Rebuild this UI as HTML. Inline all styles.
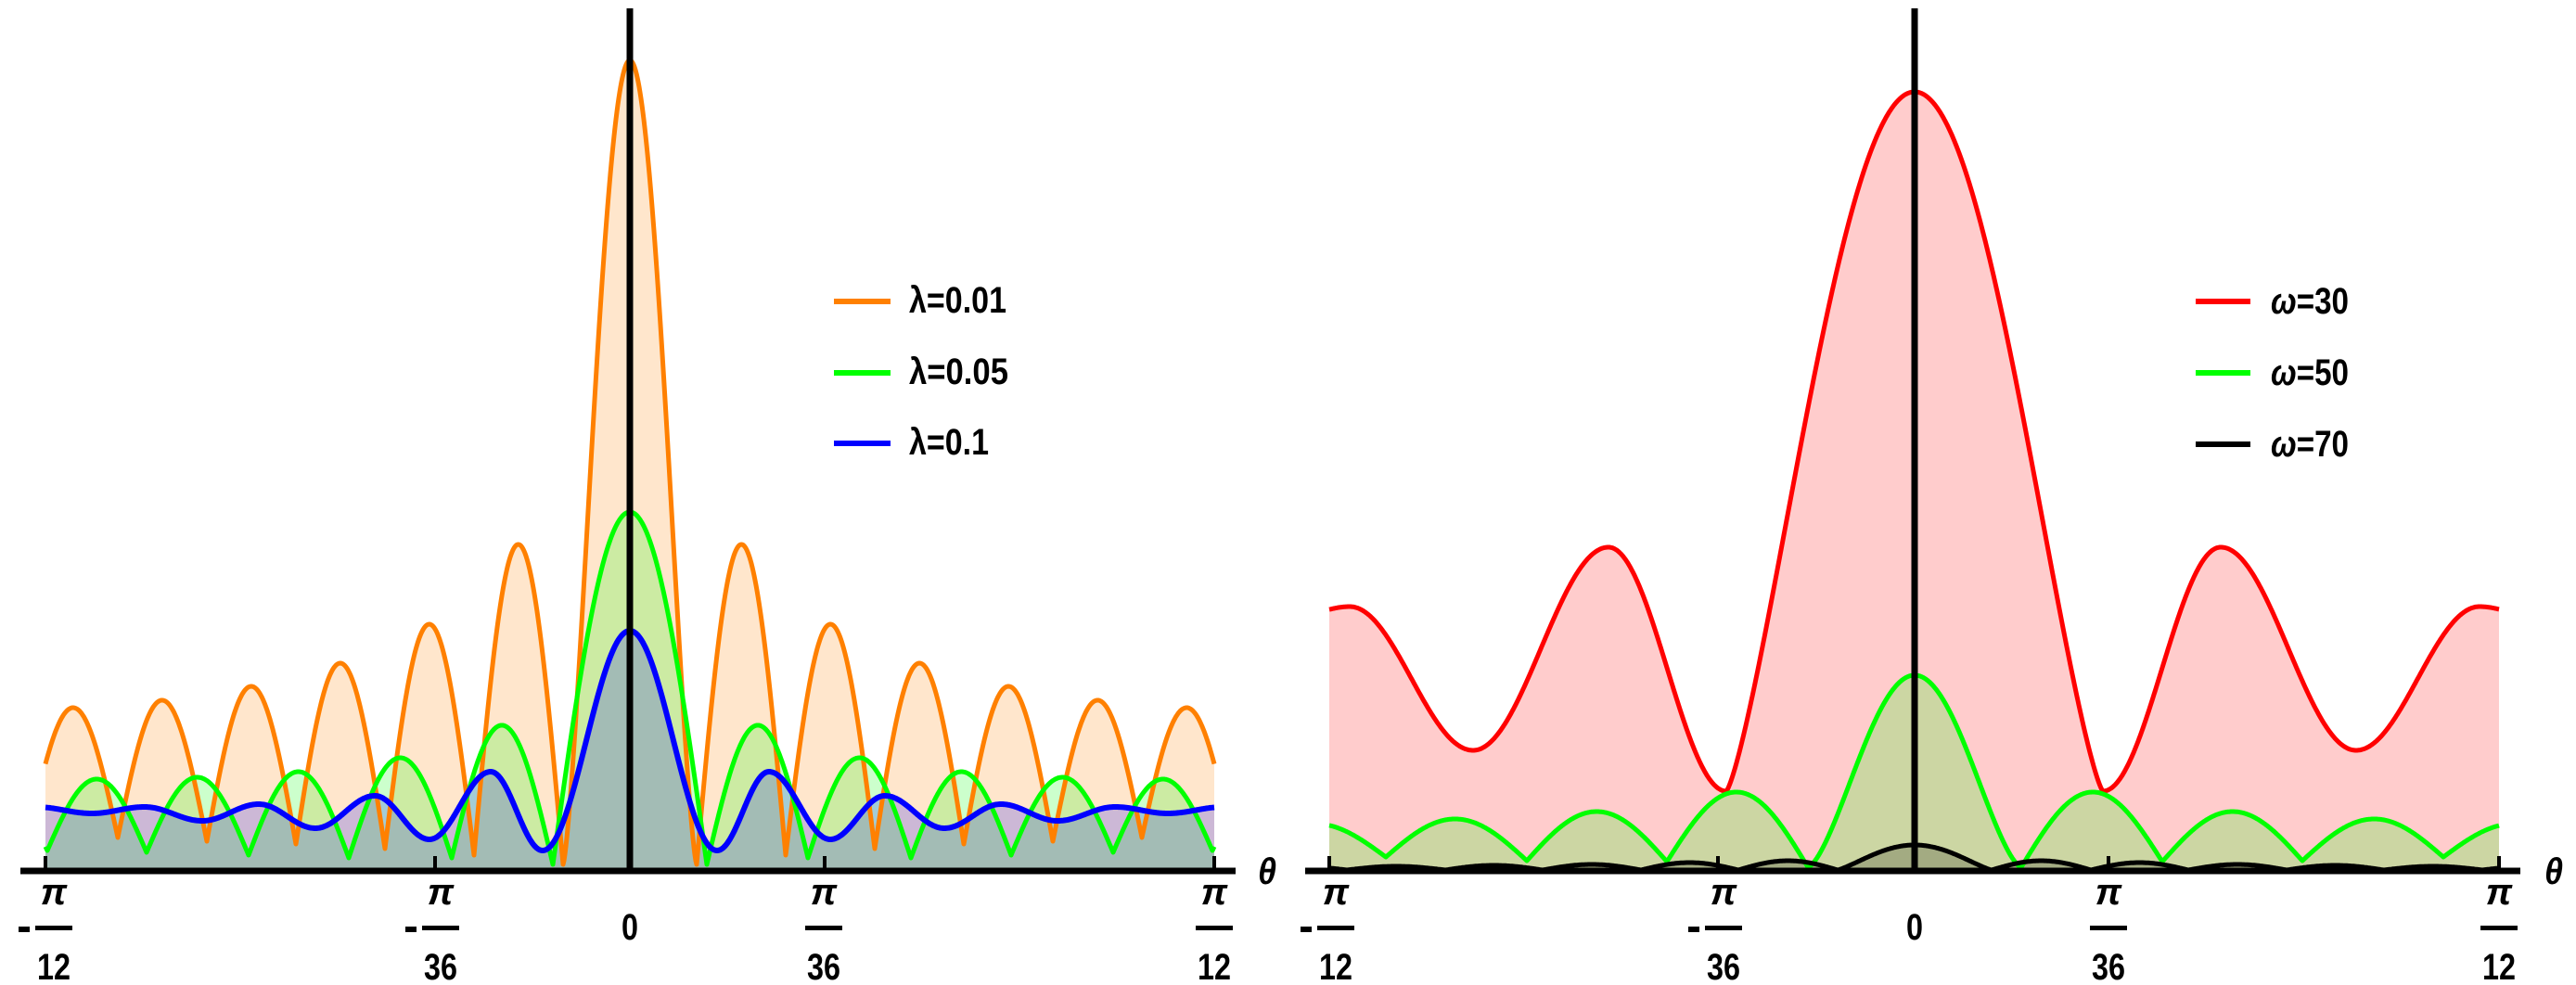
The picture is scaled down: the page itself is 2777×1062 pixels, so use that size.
<!DOCTYPE html>
<html><head><meta charset="utf-8"><style>
html,body{margin:0;padding:0;background:#fff;}
svg{display:block;}
text{font-family:"Liberation Sans",sans-serif;font-weight:bold;fill:#000;}
</style></head><body>
<svg id="s" width="2777" height="1062" viewBox="0 0 2777 1062" xmlns="http://www.w3.org/2000/svg">
<g id="fills"></g><g id="lines"></g>
<g stroke="#000" stroke-width="7" fill="none">
<line x1="22" y1="939" x2="1332" y2="939"/>
<line x1="679" y1="9" x2="679" y2="942"/>
<line x1="1407" y1="939" x2="2717" y2="939"/>
<line x1="2064" y1="9" x2="2064" y2="942"/>
</g>
<g stroke="#000" stroke-width="4">
<line x1="49" y1="923" x2="49" y2="939"/><line x1="469" y1="923" x2="469" y2="939"/>
<line x1="889" y1="923" x2="889" y2="939"/><line x1="1309" y1="923" x2="1309" y2="939"/>
<line x1="1433" y1="923" x2="1433" y2="939"/><line x1="1852" y1="923" x2="1852" y2="939"/>
<line x1="2273" y1="923" x2="2273" y2="939"/><line x1="2694" y1="923" x2="2694" y2="939"/>
</g>
<g id="ticks"></g>
<g stroke-width="6">
<line x1="899" y1="325" x2="960" y2="325" stroke="#ff8000"/>
<line x1="899" y1="402" x2="960" y2="402" stroke="#00ff00"/>
<line x1="899" y1="478" x2="960" y2="478" stroke="#0000ff"/>
<line x1="2367" y1="325" x2="2426" y2="325" stroke="#ff0000"/>
<line x1="2367" y1="402" x2="2426" y2="402" stroke="#00ff00"/>
<line x1="2367" y1="479" x2="2426" y2="479" stroke="#000"/>
</g>
<g font-size="40">
<text x="980" y="337" textLength="105" lengthAdjust="spacingAndGlyphs">λ=0.01</text>
<text x="980" y="414" textLength="107" lengthAdjust="spacingAndGlyphs">λ=0.05</text>
<text x="980" y="490" textLength="86" lengthAdjust="spacingAndGlyphs">λ=0.1</text>
<text x="2448" y="338" textLength="84" lengthAdjust="spacingAndGlyphs"><tspan font-style="italic">ω</tspan>=30</text>
<text x="2448" y="415" textLength="84" lengthAdjust="spacingAndGlyphs"><tspan font-style="italic">ω</tspan>=50</text>
<text x="2448" y="492" textLength="84" lengthAdjust="spacingAndGlyphs"><tspan font-style="italic">ω</tspan>=70</text>
<text x="1366" y="953" font-style="italic" text-anchor="middle" textLength="20" lengthAdjust="spacingAndGlyphs">θ</text>
<text x="2753" y="953" font-style="italic" text-anchor="middle" textLength="20" lengthAdjust="spacingAndGlyphs">θ</text>
</g>
</svg>
<script>
var NS="http://www.w3.org/2000/svg";
function el(p,tag,a){var e=document.createElementNS(NS,tag);for(var k in a)e.setAttribute(k,a[k]);document.getElementById(p).appendChild(e);return e;}
function lobe(spec){
  return function(d){
    var z=spec.z,m=spec.m,p=spec.p;
    if(d<z[0]){var t=d/z[0];return m[0]+(spec.y0-m[0])*Math.pow(Math.cos(Math.PI*t/2),spec.pw);}
    for(var i=0;i<z.length-1;i++){ if(d<=z[i+1]){var t=(d-z[i])/(z[i+1]-z[i]);var base=m[i]+(m[i+1]-m[i])*t;return base+(p[i]-(m[i]+m[i+1])/2)*Math.sin(Math.PI*t);} }
    return m[m.length-1];
  };
}
function cosi(pts){
  return function(d){
    for(var i=0;i<pts.length-1;i++){ if(d<=pts[i+1][0]){var a=pts[i],b=pts[i+1];var t=(d-a[0])/(b[0]-a[0]);var s=(1-Math.cos(Math.PI*t))/2;return a[1]+(b[1]-a[1])*s;} }
    return pts[pts.length-1][1];
  };
}
function draw(c,L,R,h,col,sw){
  var pts=[];
  for(var x=L;x<=R;x+=1){pts.push(x+","+h(Math.abs(x-c)).toFixed(1));}
  el("fills","polygon",{points:pts.join(" ")+" "+R+",939 "+L+",939",fill:col,"fill-opacity":"0.2",stroke:"none"});
  el("lines","polyline",{points:pts.join(" "),fill:"none",stroke:col,"stroke-width":sw,"stroke-linejoin":"round"});
}
var orange=lobe({y0:65,pw:1.4,z:[72,168,264,360,456,552,648,744],m:[932,922,915,910,907,903,900,898],p:[587,673,715,740,755,763,768]});
var green=lobe({y0:552,pw:1.0,z:[83,192,303,411,521,628,740],m:[932,925,925,922,919,917,915],p:[782,817,832,838,840,842]});
var blue=cosi([[0,680],[94,917],[150,832],[216,905],[275,858],[339,893],[400,867],[461,885],[523,870],[580,877],[640,870],[700,872]]);
draw(679,49,1309,orange,"#ff8000",5);
draw(679,49,1309,green,"#00ff00",5);
draw(679,49,1309,blue,"#0000ff",6);
var redSide=cosi([[203,853],[330,590],[476,809],[609,654],[660,662]]);
var red=function(d){ if(d<=203){var t=d/203;return 853+(99-853)*Math.pow(Math.cos(Math.PI*t/2),1.3);} return redSide(d);};
var green2=lobe({y0:728,pw:1.5,z:[115,267,418,570,722],m:[935,929,928,924,922],p:[854,875,883,888]});
var black=lobe({y0:911,pw:1.2,z:[83,190,295,401,506,612,718],m:[938,938,938,938,938,938,938],p:[928,930,932,933,934,934]});
draw(2064,1433,2694,red,"#ff0000",5);
draw(2064,1433,2694,green2,"#00ff00",5);
draw(2064,1433,2694,black,"#000000",5);
function frac(cx,neg,den){
  var g="ticks";
  var t=el(g,"text",{x:cx,y:975,"font-size":"40","font-style":"italic","text-anchor":"middle"});t.textContent="π";
  el(g,"rect",{x:cx-20,y:998,width:40,height:5,fill:"#000"});
  var n=el(g,"text",{x:cx,y:1056,"font-size":"40","text-anchor":"middle",textLength:"36",lengthAdjust:"spacingAndGlyphs"});n.textContent=den;
  if(neg){el(g,"rect",{x:cx-38,y:999,width:12,height:6,fill:"#000"});}
}
frac(58,true,"12");frac(475,true,"36");frac(888,false,"36");frac(1309,false,"12");
frac(1440,true,"12");frac(1858,true,"36");frac(2273,false,"36");frac(2694,false,"12");
[679,2064].forEach(function(x){var t=el("ticks","text",{x:x,y:1013,"font-size":"40","text-anchor":"middle",textLength:"18",lengthAdjust:"spacingAndGlyphs"});t.textContent="0";});
</script>
</body></html>
